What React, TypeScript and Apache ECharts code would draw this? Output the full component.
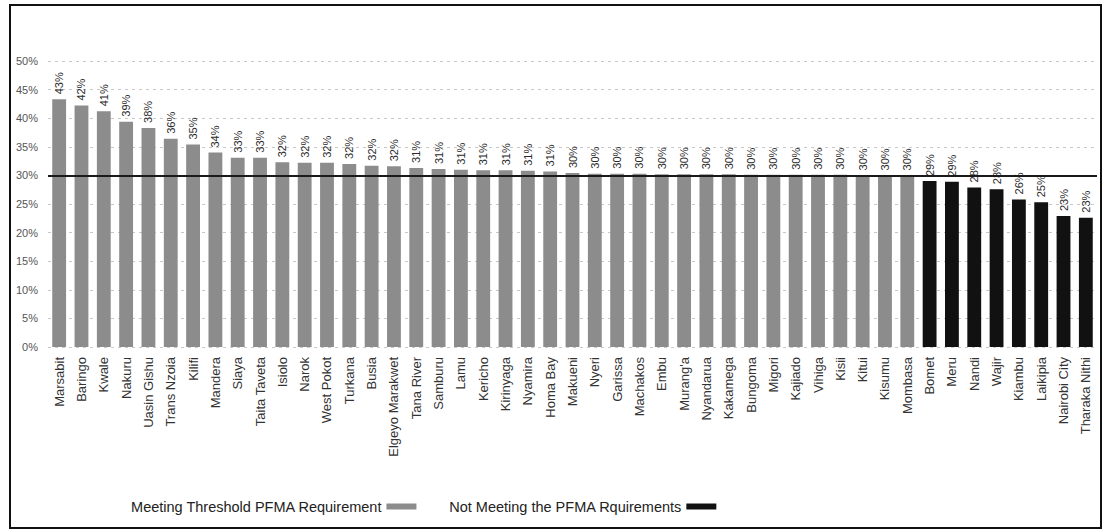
import React, { useEffect, useRef } from "react";
import * as echarts from "echarts";

const counties: string[] = [
  "Marsabit", "Baringo", "Kwale", "Nakuru", "Uasin Gishu", "Trans Nzoia", "Kilifi", "Mandera",
  "Siaya", "Taita Taveta", "Isiolo", "Narok", "West Pokot", "Turkana", "Busia", "Elgeyo Marakwet",
  "Tana River", "Samburu", "Lamu", "Kericho", "Kirinyaga", "Nyamira", "Homa Bay", "Makueni",
  "Nyeri", "Garissa", "Machakos", "Embu", "Murang'a", "Nyandarua", "Kakamega", "Bungoma",
  "Migori", "Kajiado", "Vihiga", "Kisii", "Kitui", "Kisumu", "Mombasa", "Bomet",
  "Meru", "Nandi", "Wajir", "Kiambu", "Laikipia", "Nairobi City", "Tharaka Nithi",
];

const shares: number[] = [
  43.3, 42.2, 41.2, 39.4, 38.3, 36.4, 35.4, 34.0,
  33.1, 33.1, 32.3, 32.2, 32.2, 32.0, 31.7, 31.6,
  31.3, 31.1, 31.0, 30.9, 30.9, 30.8, 30.7, 30.4,
  30.3, 30.3, 30.3, 30.2, 30.2, 30.2, 30.2, 30.1,
  30.1, 30.1, 30.1, 30.1, 30.0, 30.0, 30.0, 29.0,
  28.9, 27.9, 27.6, 25.8, 25.3, 22.9, 22.6,
];

const threshold = 30;
const yTicks = { min: 0, max: 50, interval: 5 };
const seriesNames = ["Meeting Threshold PFMA Requirement", "Not Meeting the PFMA Rquirements"];
const seriesColors = ["#8c8c8c", "#111111"];

export default function App() {
  const ref = useRef<HTMLDivElement>(null);

  useEffect(() => {
    if (!ref.current) return;
    const chart = echarts.init(ref.current, null, { renderer: "svg" });
    const meets = shares.map((v) => (v >= threshold ? v : "-"));
    const fails = shares.map((v) => (v < threshold ? v : "-"));
    const font = "'Liberation Sans', Arial, sans-serif";

    const label = {
      show: true,
      position: "top",
      rotate: 90,
      align: "left",
      verticalAlign: "middle",
      distance: 5,
      fontSize: 11,
      color: "#2a2a2a",
      fontFamily: font,
      formatter: (p: any) => Math.round(p.value) + "%",
    };

    chart.setOption({
      animation: false,
      backgroundColor: "#fff",
      textStyle: { fontFamily: font },
      grid: { left: 48, right: 11, top: 61, bottom: 184, containLabel: false },
      legend: {
        left: 125,
        top: 494,
        align: "right",
        itemWidth: 30,
        itemHeight: 6,
        itemGap: 32,
        icon: "rect",
        textStyle: { fontSize: 14.5, color: "#222", fontFamily: font },
        data: seriesNames,
      },
      xAxis: {
        type: "category",
        data: counties,
        axisLine: { show: false },
        axisTick: { show: false },
        axisLabel: {
          rotate: 90,
          interval: 0,
          margin: 10,
          fontSize: 13,
          color: "#333",
          fontFamily: font,
        },
      },
      yAxis: {
        type: "value",
        min: yTicks.min,
        max: yTicks.max,
        interval: yTicks.interval,
        axisLine: { show: false },
        axisTick: { show: false },
        axisLabel: { formatter: "{value}%", fontSize: 11, color: "#555", margin: 10 },
        splitLine: { lineStyle: { type: [3, 4], color: "#c8c8c8", width: 1 } },
      },
      series: [
        {
          name: seriesNames[0],
          type: "bar",
          stack: "all",
          data: meets,
          barWidth: "62%",
          itemStyle: { color: seriesColors[0] },
          label,
          markLine: {
            silent: true,
            symbol: ["none", "none"],
            label: { show: false },
            lineStyle: { color: "#1a1a1a", width: 2, type: "solid" },
            data: [{ yAxis: threshold }],
          },
        },
        {
          name: seriesNames[1],
          type: "bar",
          stack: "all",
          data: fails,
          barWidth: "62%",
          itemStyle: { color: seriesColors[1] },
          label,
        },
      ],
      graphic: [
        {
          type: "rect",
          shape: { x: 10, y: 5, width: 1091, height: 523 },
          style: { fill: "none", stroke: "#111", lineWidth: 2 },
          silent: true,
        },
      ],
    });
    return () => chart.dispose();
  }, []);

  return (
    <div
      ref={ref}
      style={{ position: "fixed", left: 0, top: 0, width: 1108, height: 531, background: "#fff" }}
    />
  );
}
